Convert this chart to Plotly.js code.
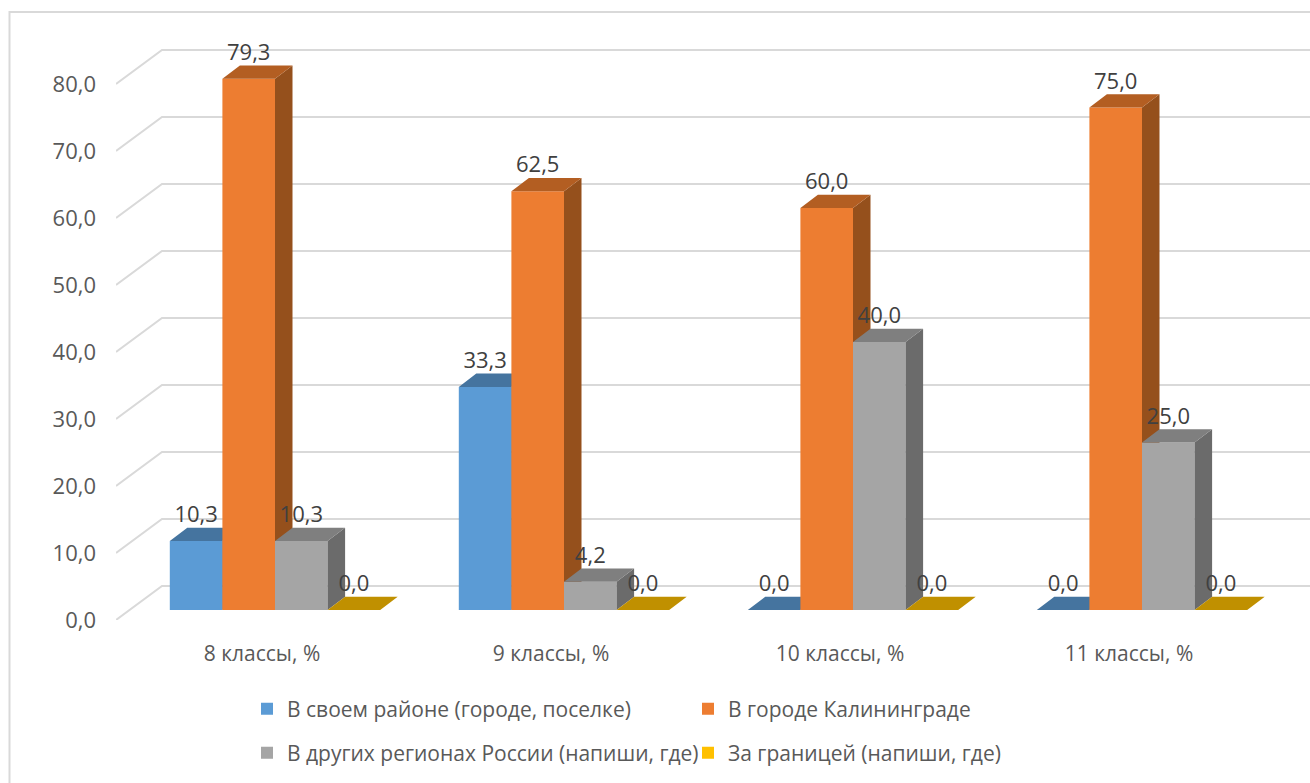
<!DOCTYPE html>
<html>
<head>
<meta charset="utf-8">
<script src="https://cdn.plot.ly/plotly-3.0.1.min.js"></script>
<style>html,body{margin:0;padding:0;background:#fff}#chart{width:1310px;height:783px}</style>
</head>
<body>
<div id="chart"></div>
<script>
var categories = ['8 классы, %', '9 классы, %', '10 классы, %', '11 классы, %'];
var seriesNames = ['В своем районе (городе, поселке)', 'В городе Калининграде', 'В других регионах России (напиши, где)', 'За границей (напиши, где)'];
var valuesDistrict = [10.3, 33.3, 0, 0];
var valuesCity = [79.3, 62.5, 60, 75];
var valuesRegions = [10.3, 4.2, 40, 25];
var valuesAbroad = [0, 0, 0, 0];
var frontColors = ['#5B9BD5', '#ED7D31', '#A5A5A5', '#FFC000'];
var topColors = ['#45749F', '#B35E22', '#7F7F7F', '#C09000'];
var sideColors = ['#3E6A92', '#95501C', '#6B6B6B', '#A57C00'];
var yTicks = [0, 10, 20, 30, 40, 50, 60, 70, 80];

var allValues = [valuesDistrict, valuesCity, valuesRegions, valuesAbroad];
var W = 1310, H = 783, mL = 116, mT = 12, mB = 163;
var pxPerX = 289, pxPerY = 6.7;
var xRange = [(mL - 275) / pxPerX, (W - 275) / pxPerX];
var yRange = [0, (H - mB - mT) / pxPerY];
var barW = 52.6 / pxPerX;
var base = 10 / pxPerY;            // bars stand in the middle of the floor
var depthX = 17.5 / pxPerX, depthY = 13.3 / pxPerY;
var wallX = 46 / pxPerX, wallY = 34 / pxPerY;
var labelShift = 13 / pxPerX;
var textFont = '"Open Sans", "Noto Sans", sans-serif';
var catPos = categories.map(function (_, i) { return i; });

var traces = [];

// gridlines: floor-side segment plus back wall
var gx = [], gy = [];
yTicks.forEach(function (t) {
  gx.push(xRange[0], xRange[0] + wallX, xRange[1], null);
  gy.push(t, t + wallY, t + wallY, null);
});
traces.push({type: 'scatter', mode: 'lines', x: gx, y: gy, xaxis: 'x', yaxis: 'y', showlegend: false,
  hoverinfo: 'skip', line: {color: '#D9D9D9', width: 2}, connectgaps: false});

function polyTrace(xs, ys, color, ax) {
  return {type: 'scatter', mode: 'lines', x: xs, y: ys, xaxis: ax[0], yaxis: ax[1], fill: 'toself',
    fillcolor: color, line: {width: 0, color: color}, showlegend: false, hoverinfo: 'skip'};
}

allValues.forEach(function (vals, s) {
  var ax = ['x' + (s + 2), 'y' + (s + 2)];
  var lefts = catPos.map(function (c) { return c + (s - 2) * barW; });
  var tx = [], ty = [], sx = [], sy = [];
  vals.forEach(function (v, i) {
    var L = lefts[i], R = L + barW, T = base + v;
    tx.push(L, R, R + depthX, L + depthX, L, null);
    ty.push(T, T, T + depthY, T + depthY, T, null);
    sx.push(R, R, R + depthX, R + depthX, R, null);
    sy.push(base, T, T + depthY, base + depthY, base, null);
  });
  traces.push(polyTrace(sx, sy, sideColors[s], ax));
  traces.push(polyTrace(tx, ty, topColors[s], ax));
  traces.push({type: 'bar', name: seriesNames[s], x: lefts.map(function (l) { return l + barW / 2; }), y: vals,
    base: base, width: barW, xaxis: ax[0], yaxis: ax[1], marker: {color: frontColors[s], line: {width: 0}},
    legend: s < 2 ? 'legend' : 'legend2', hoverinfo: 'y'});
});

allValues.forEach(function (vals, s) {
  traces.push({type: 'scatter', mode: 'text', xaxis: 'x6', yaxis: 'y6', showlegend: false, hoverinfo: 'skip',
    x: catPos.map(function (c) { return c + (s - 2) * barW + barW / 2; }),
    y: vals.map(function (v) { return v + base + depthY; }),
    text: vals.map(function (v) { return v.toFixed(1).replace('.', ','); }),
    textposition: 'top center', cliponaxis: false,
    textfont: {family: textFont, size: 22, color: '#404040'}});
});

var layout = {
  width: W, height: H, margin: {l: mL, r: 0, t: mT, b: mB, pad: 0},
  paper_bgcolor: '#fff', plot_bgcolor: 'rgba(0,0,0,0)', separators: ', ',
  barmode: 'overlay', showlegend: true,
  xaxis: {type: 'linear', range: xRange, fixedrange: true, showgrid: false, zeroline: false, showline: false, ticks: '',
    tickmode: 'array', tickvals: catPos.map(function (c) { return c - labelShift; }), ticktext: categories,
    ticklabelstandoff: 19, tickfont: {family: textFont, size: 21, color: '#595959'}},
  yaxis: {type: 'linear', range: yRange, fixedrange: true, showgrid: false, zeroline: false, showline: false, ticks: '',
    tickmode: 'array', tickvals: yTicks, tickformat: '.1f',
    ticklabelstandoff: 19, tickfont: {family: textFont, size: 22, color: '#595959'}},
  legend: {orientation: 'h', x: (247 - mL) / (W - mL), y: -(709 - (H - mB)) / (H - mB - mT), xanchor: 'left', yanchor: 'middle',
    entrywidth: 396, entrywidthmode: 'pixels', bgcolor: 'rgba(0,0,0,0)', borderwidth: 0,
    font: {family: textFont, size: 21, color: '#595959'}, traceorder: 'normal'},
  legend2: {orientation: 'h', x: (247 - mL) / (W - mL), y: -(753 - (H - mB)) / (H - mB - mT), xanchor: 'left', yanchor: 'middle',
    entrywidth: 396, entrywidthmode: 'pixels', bgcolor: 'rgba(0,0,0,0)', borderwidth: 0,
    font: {family: textFont, size: 21, color: '#595959'}, traceorder: 'normal'},
  shapes: [{type: 'path', xref: 'paper', yref: 'paper', layer: 'below',
    path: 'M ' + ((9.5 - mL) / (W - mL)) + ' ' + (-mB / (H - mB - mT)) + ' L ' + ((9.5 - mL) / (W - mL)) + ' 1 L 1 1',
    line: {color: '#D9D9D9', width: 2}}]
};
for (var k = 2; k <= 6; k++) {
  layout['xaxis' + k] = {type: 'linear', range: xRange, overlaying: 'x', anchor: 'y' + k, visible: false, fixedrange: true};
  layout['yaxis' + k] = {type: 'linear', range: yRange, overlaying: 'y', anchor: 'x' + k, visible: false, fixedrange: true};
}
Plotly.newPlot('chart', traces, layout, {displayModeBar: false, responsive: false});
</script>
</body>
</html>
